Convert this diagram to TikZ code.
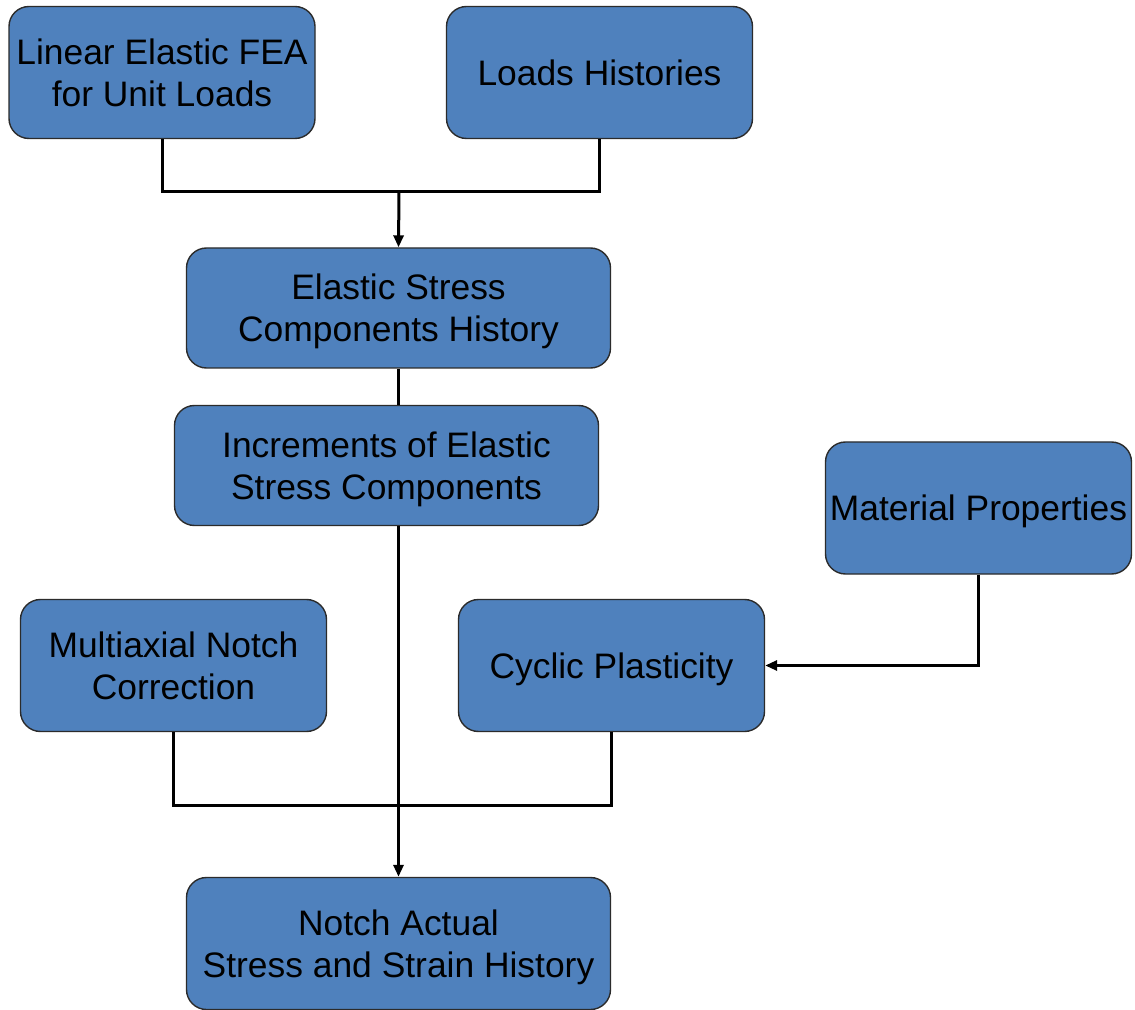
\documentclass[tikz,border=0pt]{standalone}
\usepackage{fontspec}
\setmainfont{Liberation Sans}
\usepackage{xcolor}
\usetikzlibrary{arrows.meta,calc,positioning}
\definecolor{boxblue}{HTML}{4F81BD}
\definecolor{boxedge}{HTML}{2B2B2B}

\begin{document}
\begin{tikzpicture}[x=0.5pt,y=-0.5pt,>={Triangle[length=6pt,width=5pt]},
  font=\fontsize{17.7}{21}\selectfont,
  stepbox/.style={draw=boxedge,line width=0.7pt,fill=boxblue,rounded corners=10pt,
    align=center,inner sep=0pt,text depth=0pt,minimum height=66pt},
  narrowbox/.style={stepbox,minimum width=153pt},
  widebox/.style={stepbox,minimum width=212pt},
  flow/.style={line width=1.5pt,black}]
  \useasboundingbox (0,0) rectangle (1135,1010);
  % top row
  \node[narrowbox] (fea) at (162,72.5) {Linear Elastic FEA\\for Unit Loads};
  \node[narrowbox] (loads) at (599.5,72.5) {Loads Histories};
  % stress history
  \node[widebox,minimum height=60pt] (elastic) at (398.5,308) {Elastic Stress\\Components History};
  \node[widebox,minimum height=60pt] (incr) at (386.5,465.5) {Increments of Elastic\\Stress Components};
  % material side
  \node[narrowbox] (mat) at (978.5,508) {Material Properties};
  \node[narrowbox] (multi) at (173.5,665.5) {Multiaxial Notch\\Correction};
  \node[narrowbox] (cyclic) at (611.5,665.5) {Cyclic Plasticity};
  % result
  \node[widebox] (notch) at (398.5,943.5) {Notch Actual\\Stress and Strain History};

  \coordinate (topjoin) at (399,192);
  \coordinate (lowjoin) at (399,805);
  \draw[flow] (fea.south) |- (topjoin) -| (loads.south);
  \draw[flow,->] (topjoin) -- (elastic.north);
  \draw[flow] (elastic.south) -- (elastic.south |- incr.north);
  \draw[flow,->] (elastic.south |- incr.south) -- (notch.north);
  \draw[flow] (multi.south) |- (lowjoin) -| (cyclic.south);
  \draw[flow,->] (mat.south) |- (cyclic.east);
\end{tikzpicture}
\end{document}
